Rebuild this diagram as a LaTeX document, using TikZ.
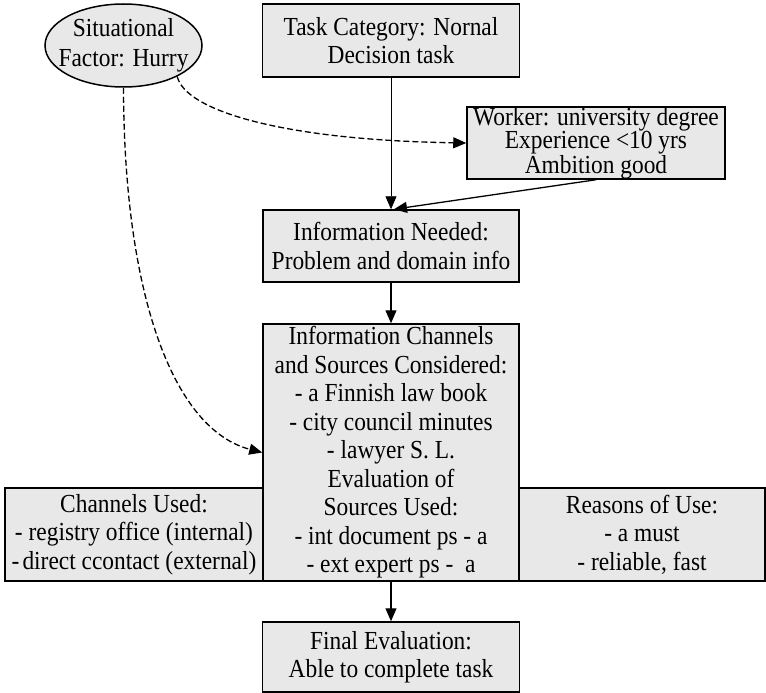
\documentclass[tikz,border=0pt]{standalone}
\usepackage{fontspec}
\setmainfont{Liberation Serif}[FakeStretch=0.9]
\usetikzlibrary{arrows.meta,shapes.geometric}
\definecolor{boxfill}{RGB}{232,232,232}
\begin{document}
\begin{tikzpicture}[x=1pt,y=-1pt,
  box/.style={draw=black, line width=1.5pt, fill=boxfill, inner sep=0pt,
    align=center, font=\fontsize{26}{28.5}\selectfont},
  oval/.style={draw=black, line width=1.5pt, fill=boxfill, ellipse, inner sep=0pt},
  flow/.style={-{Triangle[length=13pt,width=11pt]}, line width=1.3pt},
  thinflow/.style={flow, line width=0.8pt},
  hint/.style={flow, dash pattern=on 6pt off 3pt}]
\useasboundingbox (0,0) rectangle (766,693);

% situational factor
\node[oval, minimum width=157pt, minimum height=83pt] (sit) at (123.5,45.5) {};
\node[align=center, inner sep=0pt, font=\fontsize{26}{30}\selectfont] (sittext) at (sit) {Situational\\Factor: Hurry};

% main column
\node[box, minimum width=257pt, minimum height=73pt] (task) at (391,40.5) {Task Category: Nornal\\Decision task};
\node[box, minimum width=258pt, minimum height=72pt,
  font=\fontsize{26}{23.5}\selectfont] (worker) at (596,143) {Worker: university degree\\Experience <10 yrs\\Ambition good};
\node[box, minimum width=256pt, minimum height=72pt] (need) at (391,246) {Information Needed:\\Problem and domain info};
\node[box, minimum width=256pt, minimum height=257pt] (chan) at (391,452.5) {Information Channels\\and Sources Considered:\\- a Finnish law book\\- city council minutes\\- lawyer S. L.\\Evaluation of\\Sources Used:\\- int document ps - a\\- ext expert ps -~\ a};
\node[box, minimum width=258pt, minimum height=93pt] (used) at (134,534.5) {Channels Used:\\- registry office (internal)\\-\hspace{0.12em}direct ccontact (external)};
\node[box, minimum width=246pt, minimum height=93pt] (reason) at (642,534.5) {Reasons of Use:\\- a must\\- reliable, fast};
\node[box, minimum width=257pt, minimum height=70pt] (final) at (391,657) {Final Evaluation:\\Able to complete task};

% connectors
\draw[thinflow] (task.south) -- (need.north);
\draw[flow] (worker.south) -- ([xshift=3pt]need.north);
\draw[flow] (need.south) -- (chan.north);
\draw[flow] (chan.south) -- (final.north);
\draw[hint] (sit.south) .. controls (124,300) and (175,430) .. (chan.west);
\draw[hint] (sit.-30) .. controls (185,110) and (280,140) .. (worker.west);
\end{tikzpicture}
\end{document}
